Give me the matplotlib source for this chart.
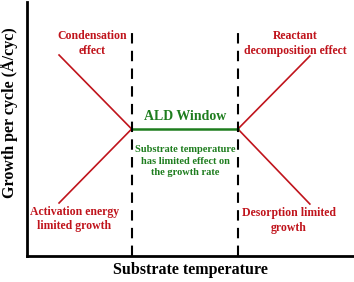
import matplotlib.pyplot as plt

plt.rcParams['font.family'] = ['Liberation Serif', 'DejaVu Serif']
plt.rcParams['font.weight'] = 'bold'

# temperature (arbitrary units) and growth per cycle (arbitrary units)
window_bounds = [3.2, 6.45]
window_gpc = 4.96
low_t = [0.98, 3.2]
condensation_gpc = [7.85, 4.96]
activation_gpc = [2.07, 4.96]
high_t = [6.45, 8.65]
decomposition_gpc = [4.96, 7.81]
desorption_gpc = [4.96, 2.03]

red = '#c0141c'
green = '#1e7d1e'

fig = plt.figure(figsize=(3.54, 2.82), dpi=100)
ax = fig.add_axes([27/354, 26/282, 327/354, 254/282])
ax.set_xlim(0, 10)
ax.set_ylim(0, 9.92)

ax.plot(low_t, condensation_gpc, color=red, lw=1.2)
ax.plot(low_t, activation_gpc, color=red, lw=1.2)
ax.plot(high_t, decomposition_gpc, color=red, lw=1.2)
ax.plot(high_t, desorption_gpc, color=red, lw=1.2)
ax.plot(window_bounds, [window_gpc, window_gpc], color=green, lw=1.8)

for xb in window_bounds:
    ax.plot([xb, xb], [0, 8.71], color='black', lw=1.5, dashes=(5, 3.5))

ax.text(1.99, 8.3, "Condensation\neffect", color=red, fontsize=8.5, ha='center', va='center', linespacing=1.3)
ax.text(8.2, 8.3, "Reactant\ndecomposition effect", color=red, fontsize=8.5, ha='center', va='center', linespacing=1.3)
ax.text(4.83, 5.43, "ALD Window", color=green, fontsize=10, ha='center', va='center')
ax.text(4.83, 3.71, "Substrate temperature\nhas limited effect on\nthe growth rate", color=green, fontsize=7.5, ha='center', va='center', linespacing=1.3)
ax.text(1.44, 1.45, "Activation energy\nlimited growth", color=red, fontsize=8.5, ha='center', va='center', linespacing=1.3)
ax.text(8.01, 1.4, "Desorption limited\ngrowth", color=red, fontsize=8.5, ha='center', va='center', linespacing=1.3)

ax.spines['top'].set_visible(False)
ax.spines['right'].set_visible(False)
ax.spines['left'].set_linewidth(2)
ax.spines['bottom'].set_linewidth(2)
ax.set_xticks([])
ax.set_yticks([])
ax.set_xlabel("Substrate temperature", fontsize=11.5, fontweight='bold', labelpad=4)
ax.set_ylabel("Growth per cycle (Å/cyc)", fontsize=11.5, fontweight='bold')
ax.yaxis.set_label_coords(-0.028, 0.563)

fig.savefig("out.png", dpi=100)
